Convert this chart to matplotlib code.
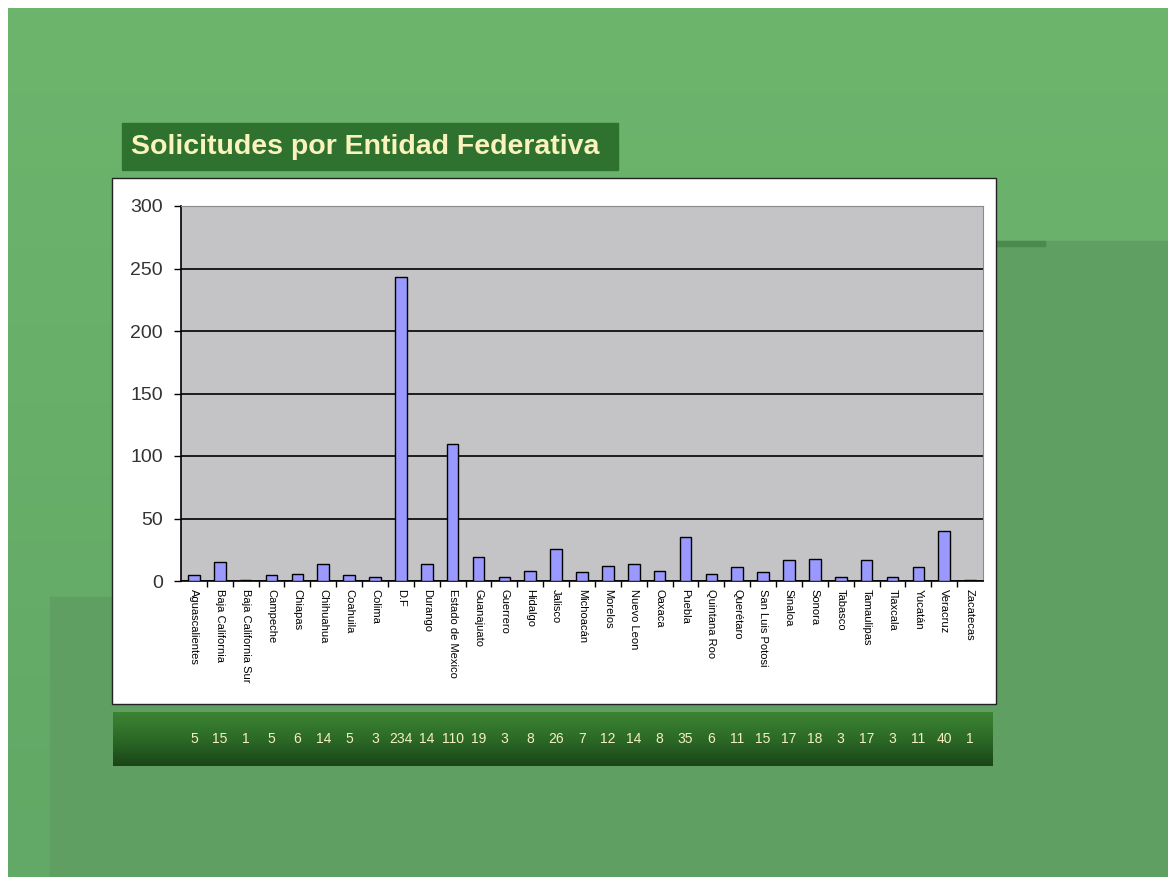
import numpy as np
import matplotlib
matplotlib.use("Agg")
import matplotlib.pyplot as plt
from matplotlib.patches import Rectangle
from matplotlib.colors import LinearSegmentedColormap
import matplotlib.transforms as mtransforms

plt.rcParams['font.family'] = ['Liberation Sans', 'DejaVu Sans']

# datos
estados = ["Aguascalientes", "Baja California", "Baja California Sur", "Campeche",
           "Chiapas", "Chihuahua", "Coahuila", "Colima", "D.F", "Durango",
           "Estado de Mexico", "Guanajuato", "Guerrero", "Hidalgo", "Jalisco",
           "Michoacán", "Morelos", "Nuevo Leon", "Oaxaca", "Puebla",
           "Quintana Roo", "Querétaro", "San Luis Potosi", "Sinaloa", "Sonora",
           "Tabasco", "Tamaulipas", "Tlaxcala", "Yucatán", "Veracruz", "Zacatecas"]
solicitudes = [5, 15, 1, 5, 6, 14, 5, 3, 243, 14, 110, 19, 3, 8, 26, 7,
               12, 14, 8, 35, 6, 11, 7, 17, 18, 3, 17, 3, 11, 40, 1]
# numeros de la tabla inferior (tal como aparecen)
tabla = ["5", "15", "1", "5", "6", "14", "5", "3", "234", "14", "110", "19",
         "3", "8", "26", "7", "12", "14", "8", "35", "6", "11", "15", "17",
         "18", "3", "17", "3", "11", "40", "1"]
titulo = "Solicitudes por Entidad Federativa"

W, H = 1168, 877
fig = plt.figure(figsize=(W / 100, H / 100), dpi=100)
fig.patch.set_facecolor("white")

# fondo de la diapositiva, en pixeles
bg = fig.add_axes([0, 0, 1, 1])
bg.set_xlim(0, W)
bg.set_ylim(H, 0)
bg.axis("off")
grad = LinearSegmentedColormap.from_list("g", ["#6db56d", "#62a866"])
bg.imshow(np.linspace(0, 1, 200).reshape(-1, 1), cmap=grad, aspect="auto",
          extent=(8, W, H, 8), interpolation="bilinear", zorder=0)
bg.add_patch(Rectangle((50, 597), W - 50, H - 597, color="#5f9f62", zorder=1))
bg.add_patch(Rectangle((995, 241), W - 995, H - 241, color="#5f9f62", zorder=1))
bg.add_patch(Rectangle((995, 241), 50, 5, color="#4a8a4e", zorder=2))

# caja del titulo
bg.add_patch(Rectangle((122, 123), 496, 47, color="#2f712e", zorder=3))
bg.text(131, 147, titulo, color="#fbf3bd", fontsize=20.5, fontweight="bold",
        va="center", ha="left", zorder=4)

# marco blanco de la grafica
bg.add_patch(Rectangle((112, 178), 884, 526, facecolor="white",
                       edgecolor="#222222", lw=1, zorder=3))

# banda verde de la tabla
band = LinearSegmentedColormap.from_list("b", ["#3c8434", "#2c6a26", "#1a4516"])
bg.imshow(np.linspace(0, 1, 100).reshape(-1, 1), cmap=band, aspect="auto",
          extent=(113, 993, 766, 712), interpolation="bilinear", zorder=3)

# grafica de barras
ax = fig.add_axes([181 / W, 1 - 581 / H, (983 - 181) / W, (581 - 206) / H])
ax.set_facecolor("#c4c3c6")
x = np.arange(len(estados))
ax.bar(x, solicitudes, width=0.45, color="#9999ff", edgecolor="black",
       linewidth=1, zorder=3)
ax.set_xlim(-0.5, len(estados) - 0.5)
ax.set_ylim(0, 300)
ax.set_yticks(range(0, 301, 50))
ax.grid(axis="y", color="black", linewidth=1.2, zorder=1)
ax.tick_params(axis="y", direction="out", length=5, width=1, pad=8,
               labelsize=14, labelcolor="#333333")
ax.set_xticks(x)
ax.set_xticklabels(estados, rotation=270, fontsize=8, va="top", ha="center")
ax.tick_params(axis="x", which="major", length=0, pad=6)
ax.set_xticks(x[1:] - 0.5, minor=True)
ax.tick_params(axis="x", which="minor", direction="out", length=4, width=1)
for s in ["left", "bottom"]:
    ax.spines[s].set_color("black")
    ax.spines[s].set_linewidth(1.2)
for s in ["top", "right"]:
    ax.spines[s].set_color("#8a8a8a")

# numeros de la tabla, alineados con las barras
trans = mtransforms.blended_transform_factory(ax.transData, fig.transFigure)
for xi, t in zip(x, tabla):
    fig.text(xi, 1 - 739 / H, t, transform=trans, color="#f6efc2",
             fontsize=10, ha="center", va="center")

fig.savefig("out.png", dpi=100)
